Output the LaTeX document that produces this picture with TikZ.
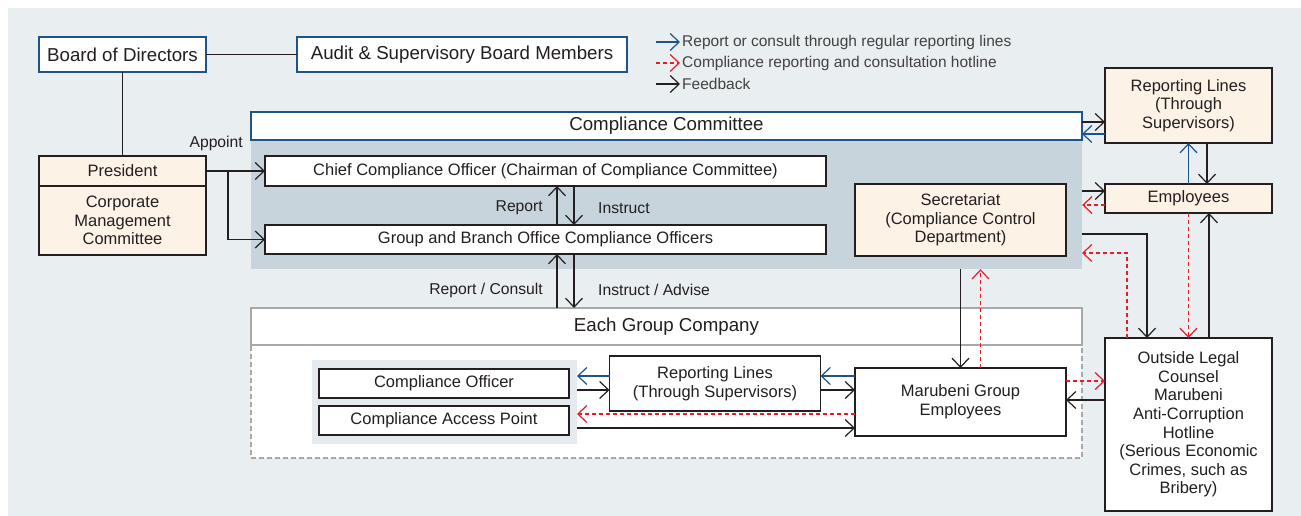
\documentclass[tikz,border=0pt]{standalone}
\usepackage{fontspec}
\setmainfont{Liberation Sans}
\usepackage{tikz}
\usetikzlibrary{arrows.meta,positioning}

\definecolor{bgcol}{RGB}{233,238,241}
\definecolor{panelcol}{RGB}{200,212,219}
\definecolor{innercol}{RGB}{228,234,238}
\definecolor{creamcol}{RGB}{253,242,230}
\definecolor{inkcol}{RGB}{35,31,32}
\definecolor{bluecol}{RGB}{30,84,140}
\definecolor{redcol}{RGB}{232,28,40}
\definecolor{greycol}{RGB}{168,168,168}

\newcommand{\headfont}{\fontsize{18.7}{21}\selectfont}
\newcommand{\bodyfont}{\fontsize{16.5}{18.6}\selectfont}
\newcommand{\tagfont}{\fontsize{15.7}{18}\selectfont}
\newcommand{\keyfont}{\fontsize{15.5}{18}\selectfont}

\tikzset{chev/.tip={Straight Barb[length=9pt,width=17pt,line width=1.2pt]}}

\begin{document}
\begin{tikzpicture}[
  x=1pt, y=-1pt,
  box/.style={draw=inkcol, line width=1.2pt, fill=white, inner sep=0pt,
    outer sep=0pt, align=center, font=\bodyfont, text=inkcol},
  topbox/.style={box, draw=bluecol, line width=1.5pt, font=\headfont},
  creambox/.style={box, fill=creamcol},
  fb/.style={-chev, inkcol, line width=1.2pt},
  rep/.style={-chev, bluecol, line width=1.2pt},
  hot/.style={-chev, redcol, line width=1.2pt, dash pattern=on 4pt off 3pt},
  tag/.style={font=\tagfont, text=inkcol, inner sep=0pt},
  keytext/.style={font=\keyfont, text=inkcol!85, inner sep=2pt, anchor=west}
]
\useasboundingbox (0,0) rectangle (1301,516);
\fill[bgcol] (8,8) rectangle (1301,516);

% Legend
\node[keytext] (key1) at (680,42) {Report or consult through regular reporting lines};
\node[keytext] (key2) at (680,63) {Compliance reporting and consultation hotline};
\node[keytext] (key3) at (680,84) {Feedback};
\draw[rep] ([xshift=-24pt]key1.west) -- (key1.west);
\draw[hot] ([xshift=-24pt]key2.west) -- (key2.west);
\draw[fb] ([xshift=-24pt]key3.west) -- (key3.west);

% Top management
\node[topbox, minimum width=167pt, minimum height=35pt] (board) at (122.5,54.5) {Board of Directors};
\node[topbox, minimum width=330pt, minimum height=35pt] (audit) at (462,54.5) {Audit \& Supervisory Board Members};
\node[creambox, minimum width=167pt, minimum height=30pt] (pres) at (122.5,171) {President};
\node[creambox, minimum width=167pt, minimum height=69pt] (cmc) at (122.5,220.5) {Corporate\\Management\\Committee};
\draw[inkcol, line width=1.2pt] (board) -- (audit);
\draw[inkcol, line width=1.2pt] (board.south) -- (pres.north);

% Compliance Committee
\node[fill=panelcol, inner sep=0pt, minimum width=831pt, minimum height=129pt] (ccpanel) at (666.5,204.5) {};
\node[topbox, minimum width=831pt, minimum height=28pt] (cc) at (666.5,126) {Compliance Committee};
\node[box, minimum width=561pt, minimum height=30pt] (cco) at (545.5,171) {Chief Compliance Officer (Chairman of Compliance Committee)};
\node[box, minimum width=561pt, minimum height=29pt] (gbo) at (545.5,239.5) {Group and Branch Office Compliance Officers};
\node[creambox, minimum width=211pt, minimum height=72pt] (sec) at (960.5,220) {Secretariat\\(Compliance Control\\Department)};

\node[tag, anchor=east] (appoint) at (243,143) {Appoint};
\draw[fb] (pres.east) -- (cco.west);
\draw[fb] ([xshift=22pt]pres.east) |- (gbo.west);

\node[tag, anchor=east] (reptag) at (543,208) {Report};
\node[tag, anchor=west] (insttag) at (598,208) {Instruct};
\draw[fb] ([xshift=11.5pt]gbo.north) -- ([xshift=11.5pt]cco.south);
\draw[fb] ([xshift=28.5pt]cco.south) -- ([xshift=28.5pt]gbo.north);

% Each Group Company
\node[draw=greycol, dash pattern=on 5pt off 3pt, line width=1.2pt, fill=white, inner sep=0pt, minimum width=831pt, minimum height=113pt] (egcarea) at (666.5,401.5) {};
\node[box, draw=greycol, font=\headfont, minimum width=831pt, minimum height=37pt] (egc) at (666.5,326.5) {Each Group Company};
\node[fill=innercol, inner sep=0pt, minimum width=265pt, minimum height=84pt] (cpanel) at (444.5,402) {};
\node[box, minimum width=250pt, minimum height=29pt] (co) at (444,383.5) {Compliance Officer};
\node[box, minimum width=250pt, minimum height=29pt] (ap) at (444,420.5) {Compliance Access Point};
\node[box, minimum width=211pt, minimum height=55pt] (rl2) at (715,383.5) {Reporting Lines\\(Through Supervisors)};
\node[box, minimum width=211pt, minimum height=68pt] (mge) at (960.5,402) {Marubeni Group\\Employees};

\node[tag, anchor=east] (rctag) at (543,290) {Report / Consult};
\node[tag, anchor=west] (iatag) at (598,290) {Instruct / Advise};
\draw[fb] ([xshift=-109.5pt]egc.north) -- ([xshift=11.5pt]gbo.south);
\draw[fb] ([xshift=28.5pt]gbo.south) -- ([xshift=-92.5pt]egc.north);

\draw[rep] ([yshift=7.5pt]rl2.west) -- ([xshift=8pt,yshift=7.5pt]co.east);
\draw[fb] ([xshift=8pt,yshift=-6.5pt]co.east) -- ([yshift=-6.5pt]rl2.west);
\draw[hot] ([yshift=-12pt]mge.west) -- ([xshift=8pt,yshift=6.5pt]ap.east);
\draw[fb] ([xshift=8pt,yshift=-7.5pt]ap.east) -- ([yshift=-26pt]mge.west);
\draw[rep] ([yshift=26pt]mge.west) -- ([yshift=7.5pt]rl2.east);
\draw[fb] ([yshift=-6.5pt]rl2.east) -- ([yshift=12pt]mge.west);

\draw[fb] (sec.south |- ccpanel.south) -- (mge.north);
\draw[hot] ([xshift=20pt]mge.north) -- ([xshift=20pt]sec.south |- ccpanel.south);

% Right column
\node[creambox, minimum width=167pt, minimum height=75pt] (rl1) at (1188.5,105.5) {Reporting Lines\\(Through\\Supervisors)};
\node[creambox, minimum width=167pt, minimum height=29pt] (emp) at (1188.5,198.5) {Employees};
\node[box, minimum width=167pt, minimum height=173pt] (olc) at (1188.5,424.5) {Outside Legal\\Counsel\\Marubeni\\Anti-Corruption\\Hotline\\(Serious Economic\\Crimes, such as\\Bribery)};
\coordinate (pfb) at (1082,234);
\coordinate (phot) at (1082,253);

\draw[fb] ([yshift=4pt]cc.east) -- ([yshift=-16.5pt]rl1.west);
\draw[rep] ([yshift=-28.5pt]rl1.west) -- ([yshift=-8pt]cc.east);
\draw[rep] (emp.north) -- (rl1.south);
\draw[fb] ([xshift=18.5pt]rl1.south) -- ([xshift=18.5pt]emp.north);
\draw[fb] ([yshift=7.5pt]emp.west -| ccpanel.east) -- ([yshift=7.5pt]emp.west);
\draw[hot] ([yshift=-6.5pt]emp.west) -- ([yshift=-6.5pt]emp.west -| ccpanel.east);
\draw[fb] (pfb) -| ([xshift=-41.5pt]olc.north);
\draw[hot] ([xshift=-61.5pt]olc.north) |- (phot);
\draw[hot] (emp.south) -- (olc.north);
\draw[fb] ([xshift=20.5pt]olc.north) -- ([xshift=20.5pt]emp.south);
\draw[hot] ([yshift=21pt]mge.east) -- ([yshift=43.5pt]olc.west);
\draw[fb] ([yshift=24.5pt]olc.west) -- ([yshift=2pt]mge.east);
\end{tikzpicture}
\end{document}
